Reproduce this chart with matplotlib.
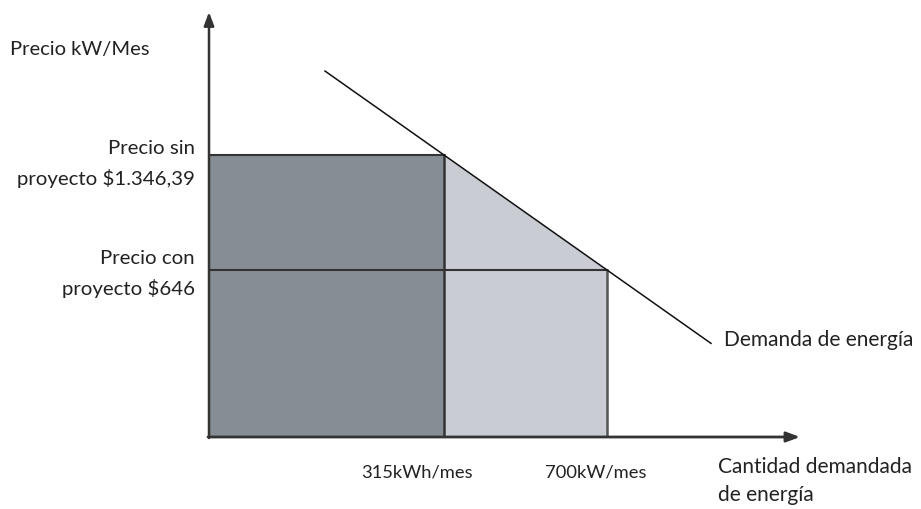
import matplotlib
matplotlib.use("Agg")
import matplotlib.pyplot as plt
import numpy as np

plt.rcParams['font.family'] = ['Lato', 'DejaVu Sans']

# schematic data (diagram units)
qty_labels = ["315kWh/mes", "700kW/mes"]
qty_pos = [235, 398]
price_labels = ["Precio sin\nproyecto $1.346,39", "Precio con\nproyecto $646"]
price_pos = [282, 167]
demand_x_range = [116, 502]
x_axis_end = 591
y_axis_end = 425

W, H = 921, 509
fig = plt.figure(figsize=(W / 100, H / 100), dpi=100)
ox, oy = 209, 437
ax = fig.add_axes([ox / W, (H - oy) / H, x_axis_end / W, y_axis_end / H])
ax.set_xlim(0, x_axis_end)
ax.set_ylim(0, y_axis_end)
ax.axis('off')

dark = '#878d94'
light = '#c9ccd3'
edge = '#333333'

q1, q2 = qty_pos
p1, p2 = price_pos
slope = (p2 - p1) / (q2 - q1)

# light triangle + rectangle
ax.fill([q1, q2, q2, q1], [p1, p2, 0, 0], color=light, lw=0, zorder=1)
# dark rectangle
ax.fill([0, q1, q1, 0], [0, 0, p1, p1], color=dark, lw=0, zorder=2)

# edges
ax.plot([0, q1], [p1, p1], color=edge, lw=1.5, zorder=3)
ax.plot([q1, q1], [0, p1], color=edge, lw=1.8, zorder=3)
ax.plot([0, q2], [p2, p2], color=edge, lw=1.5, zorder=3)
ax.plot([q2, q2], [0, p2], color='#555555', lw=1.8, zorder=3)

# demand line
dx = np.array(demand_x_range)
dy = p1 + slope * (dx - q1)
ax.plot(dx, dy, color='#111111', lw=1.1, zorder=4)

# axes arrows
ax.annotate('', xy=(0, y_axis_end), xytext=(0, -1),
            arrowprops=dict(arrowstyle='-|>,head_length=0.8,head_width=0.3',
                            color='#333333', lw=1.8, shrinkA=0, shrinkB=0),
            annotation_clip=False, zorder=5)
ax.annotate('', xy=(x_axis_end, 0), xytext=(-1, 0),
            arrowprops=dict(arrowstyle='-|>,head_length=0.8,head_width=0.3',
                            color='#333333', lw=2.0, shrinkA=0, shrinkB=0),
            annotation_clip=False, zorder=5)

tc = '#222222'
fs = 15
ax.text(-199, 387, "Precio kW/Mes", ha='left', va='center', fontsize=14.5, color=tc)
ax.text(-14, p1 - 9, price_labels[0], ha='right', va='center', fontsize=14.7,
        color=tc, linespacing=1.7)
ax.text(-14, p2 - 4, price_labels[1], ha='right', va='center', fontsize=14.7,
        color=tc, linespacing=1.7)
label_offsets = [-27, -11]
for lab, q, off in zip(qty_labels, qty_pos, label_offsets):
    ax.text(q + off, -35, lab, ha='center', va='center', fontsize=13.2, color=tc)
ax.text(515, 97, "Demanda de energía", ha='left', va='center', fontsize=fs, color=tc)
ax.text(509, -44, "Cantidad demandada\nde energía", ha='left', va='center',
        fontsize=fs, color=tc, linespacing=1.55)

fig.savefig("out.png", dpi=100)
